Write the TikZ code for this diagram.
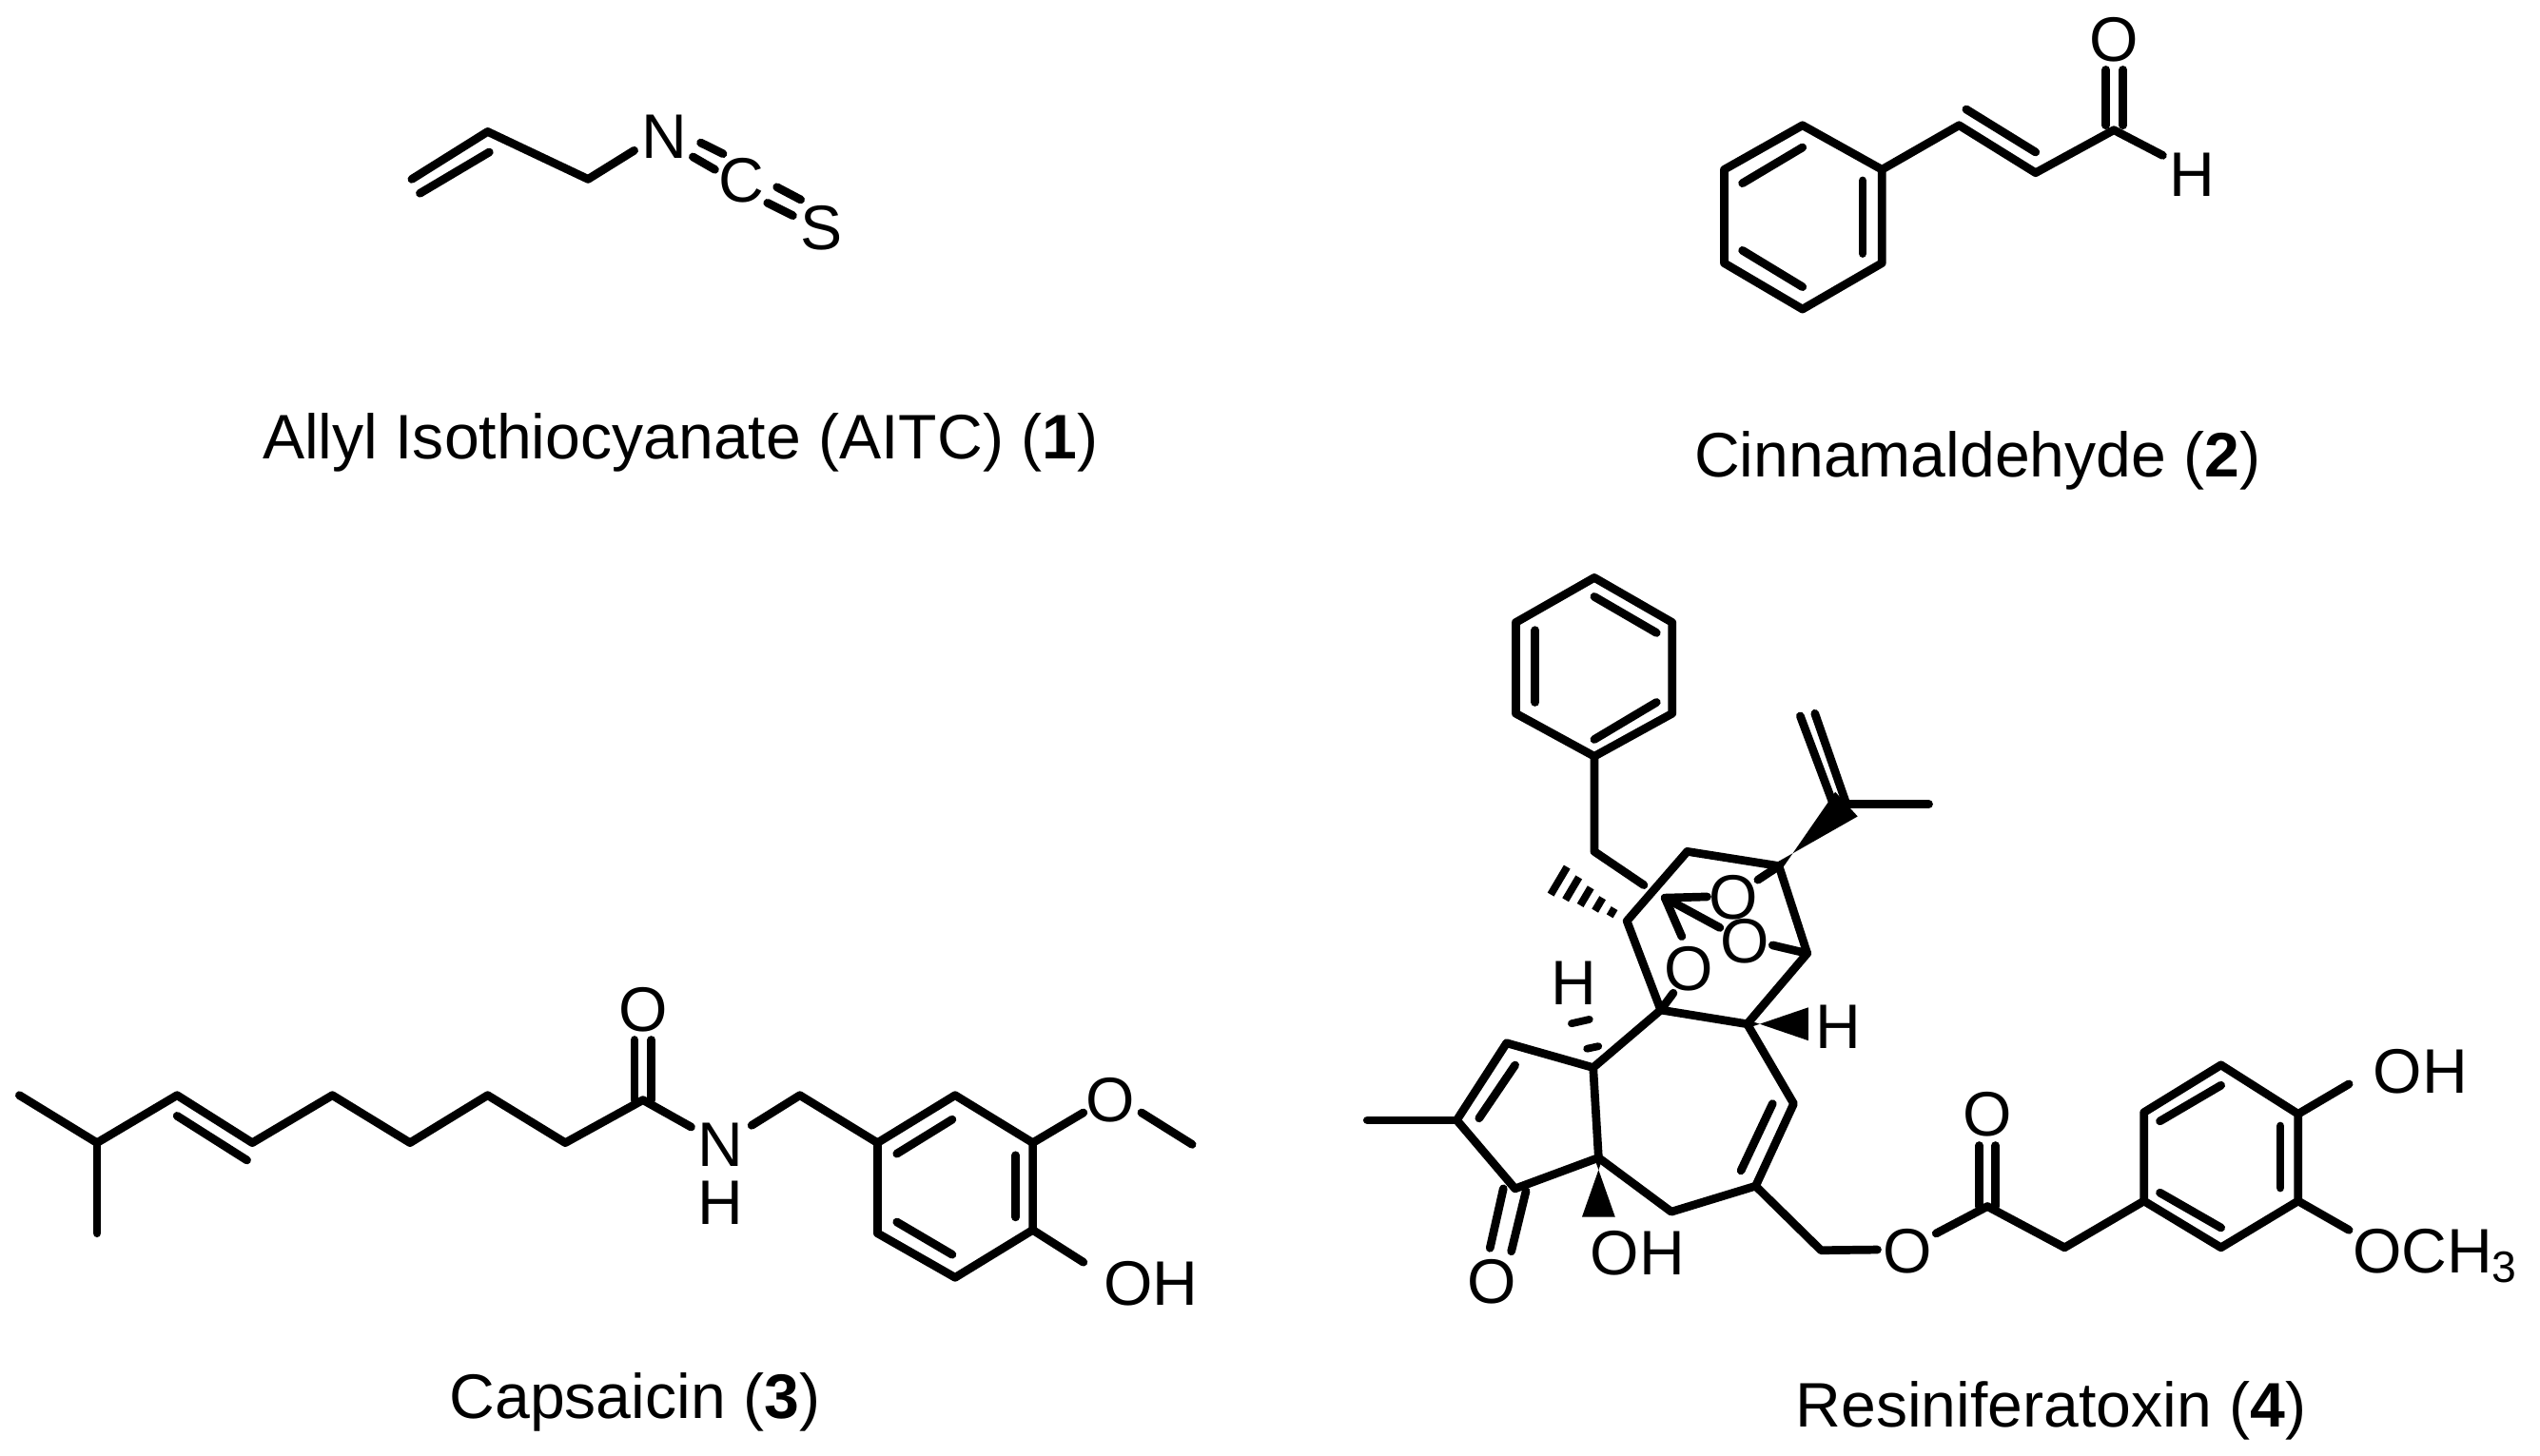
\documentclass[tikz,border=0pt]{standalone}
\usepackage{fontspec}
\setmainfont{Liberation Sans}
\usetikzlibrary{calc}
\tikzset{
  bond/.style={line width=2.9pt,line cap=round,line join=round},
  atom/.style={inner sep=0pt,font=\fontsize{22}{26}\selectfont},
  captext/.style={inner sep=0pt,font=\fontsize{22}{26}\selectfont}
}
\newcommand\wedgefill[2]{\fill ($(#1)!1.5pt!90:(#2)$) -- ($(#2)!5.8pt!90:(#1)$) -- ($(#2)!5.8pt!-90:(#1)$) -- ($(#1)!1.5pt!-90:(#2)$) -- cycle;}
\begin{document}
\begin{tikzpicture}[x=0.02cm,y=-0.02cm]
\useasboundingbox (0,0) rectangle (1560.5,894.8);
% ================= AITC =================
\coordinate (a1) at (253,110.1);
\coordinate (a2) at (299.6,80.9);
\coordinate (a3) at (361.3,110.1);
\coordinate (a4) at (389.6,92.5);
\node[atom] (aN) at (408.2,83.8) {N};
\node[atom] (aC) at (455.8,111.1) {C};
\node[atom] (aS) at (504.6,140.3) {S};
\draw[bond] (a1) -- (a2) -- (a3) -- (a4);
\draw[bond] (258,118.8) -- (300.6,93.5);
\draw[bond] (425.7,96.4) -- (439.2,104.2);
\draw[bond] (430.5,87.7) -- (444.2,94.5);
\draw[bond] (471.5,124.7) -- (487.1,132.5);
\draw[bond] (477.3,115) -- (491.9,122.7);
\node[captext] (capA) at (418,272) {Allyl Isothiocyanate (AITC) (\textbf{1})};
% ================= Cinnamaldehyde =================
\coordinate (b1) at (1107.4,77);
\coordinate (b2) at (1156.2,104.2);
\coordinate (b3) at (1156.2,161.7);
\coordinate (b4) at (1107.4,190);
\coordinate (b5) at (1059.3,161.7);
\coordinate (b6) at (1059.3,104.2);
\draw[bond] (b1) -- (b2) -- (b3) -- (b4) -- (b5) -- (b6) -- cycle;
\draw[bond] (1070.5,112.6) -- (1107.4,90.6);
\draw[bond] (1144.4,111) -- (1144.4,155.8);
\draw[bond] (1070.5,153.9) -- (1107.4,176.3);
\coordinate (b7) at (1203.6,77);
\coordinate (b8) at (1250.6,106.2);
\coordinate (b9) at (1298.7,79.9);
\coordinate (b10) at (1328.7,95.5);
\draw[bond] (b2) -- (b7) -- (b8) -- (b9) -- (b10);
\draw[bond] (1208,67.2) -- (1250.6,93.5);
\draw[bond] (1293.8,77) -- (1293.8,42.9);
\draw[bond] (1304.3,77) -- (1304.3,42.9);
\node[atom] (bO) at (1298.7,24.4) {O};
\node[atom] (bH) at (1346.7,107.1) {H};
\node[captext] (capB) at (1215,283) {Cinnamaldehyde (\textbf{2})};
% ================= Capsaicin =================
\coordinate (k1) at (11.9,673.1);
\coordinate (k2) at (59.6,702.3);
\coordinate (k3) at (59.6,757.9);
\coordinate (k4) at (108.8,673.1);
\coordinate (k5) at (155,702.3);
\coordinate (k6) at (204.2,673.1);
\coordinate (k7) at (251.9,702.3);
\coordinate (k8) at (299.6,673.1);
\coordinate (k9) at (347.3,702.3);
\coordinate (k10) at (395,676);
\coordinate (k11) at (424.6,692.6);
\coordinate (k12) at (461.8,691.6);
\coordinate (k13) at (491.4,673.1);
\draw[bond] (k1) -- (k2) -- (k4) -- (k5) -- (k6) -- (k7) -- (k8) -- (k9) -- (k10) -- (k11);
\draw[bond] (k2) -- (k3);
\draw[bond] (108.8,685.8) -- (151.7,713);
\draw[bond] (389.8,676) -- (389.8,639.1);
\draw[bond] (400.2,676) -- (400.2,639.1);
\node[atom] (kO) at (395,620.6) {O};
\node[atom] (kN) at (442.7,703.3) {N};
\node[atom] (kH) at (442.7,739.3) {H};
\coordinate (r1) at (539.1,702.3);
\coordinate (r2) at (586.8,673.1);
\coordinate (r3) at (634.5,702.3);
\coordinate (r4) at (634.5,755.9);
\coordinate (r5) at (586.8,785.1);
\coordinate (r6) at (539.1,757.9);
\draw[bond] (k12) -- (k13) -- (r1);
\draw[bond] (r1) -- (r2) -- (r3) -- (r4) -- (r5) -- (r6) -- cycle;
\draw[bond] (551,709) -- (585,688);
\draw[bond] (624,710) -- (624,748);
\draw[bond] (551,751) -- (585,771);
\draw[bond] (r3) -- (665.6,683.8);
\node[atom] (kOm) at (682.3,676) {O};
\draw[bond] (701.3,683.8) -- (732.4,703.3);
\draw[bond] (r4) -- (665.6,775.7);
\node[atom] (kOH) at (707,789) {OH};
\node[captext] (capC) at (390,862) {Capsaicin (\textbf{3})};
% ================= Resiniferatoxin =================
\coordinate (p1) at (979.5,355);
\coordinate (p2) at (1027.3,382.5);
\coordinate (p3) at (1027.3,438.5);
\coordinate (p4) at (979.5,464.8);
\coordinate (p5) at (931.3,438.5);
\coordinate (p6) at (931.3,382.5);
\draw[bond] (p1) -- (p2) -- (p3) -- (p4) -- (p5) -- (p6) -- cycle;
\draw[bond] (979.5,366.7) -- (1017.7,388.9);
\draw[bond] (943.2,387.3) -- (943.2,431.6);
\draw[bond] (979.5,454.4) -- (1017.7,431.6);
\coordinate (bz) at (979.5,523.3);
\coordinate (bzend) at (1009.9,543.9);
\draw[bond] (p4) -- (bz) -- (bzend);
\coordinate (ca) at (999.5,566);
\coordinate (cb) at (1036.6,523.3);
\coordinate (cc) at (1092.9,532.2);
\coordinate (cd) at (1110.3,585.9);
\coordinate (ce) at (1073.4,629.3);
\coordinate (cf) at (1020.3,620.7);
\coordinate (co) at (1022.9,551.8);
\node[atom] (O1) at (1065.1,551.8) {O};
\node[atom] (O2) at (1072.1,578.7) {O};
\node[atom] (O3) at (1037.6,595.4) {O};
\draw[bond] (cf) -- (ca) -- (cb) -- (cc) -- (cd) -- (ce) -- (cf);
\draw[bond] (co) -- (1048.8,551.1);
\draw[bond] (co) -- (1056.6,570.1);
\draw[bond] (co) -- (1033.2,575.5);
\draw[bond] (cc) -- (1080,540.7);
\draw[bond] (cd) -- (1089,580.9);
\draw[bond] (cf) -- (1028,610.3);
\coordinate (hm) at (954.1,539.1);
\foreach \t/\w in {0.2/1.6,0.38/2.6,0.56/3.6,0.74/4.6,0.92/5.6}{
  \draw[line width=2.6pt] ($(ca)!\t!(hm)!\w pt!90:(hm)$) -- ($(ca)!\t!(hm)!\w pt!-90:(hm)$);
}
\coordinate (ip) at (1134.4,494.2);
\coordinate (ipm) at (1185,494.2);
\coordinate (ipc) at (1115,438.5);
\wedgefill{cc}{ip}
\draw[bond] (ip) -- (ipm);
\draw[bond] (ip) -- (ipc);
\draw[bond] (1127,496) -- (1106,440);
\coordinate (hw) at (1111,629.3);
\wedgefill{ce}{hw}
\node[atom] (H1) at (1129.2,630.8) {H};
\coordinate (cg) at (978.8,656.1);
\coordinate (ch) at (925.6,641);
\coordinate (ci) at (895,688.4);
\coordinate (cj) at (930.8,730.5);
\coordinate (ck) at (982.1,711.5);
\draw[bond] (cf) -- (cg) -- (ch) -- (ci) -- (cj) -- (ck) -- (cg);
\draw[bond] (930.8,654.6) -- (908.7,687.2);
\draw[bond] (ci) -- (840,688.4);
\draw[bond] (923.6,730.5) -- (915.4,767);
\draw[bond] (937.5,732) -- (928.5,769);
\node[atom] (O4) at (916.5,787.4) {O};
\node[atom] (H2) at (967.1,604) {H};
\draw[line width=2.6pt,line cap=round] (975,644.5) -- (982,643);
\draw[line width=2.6pt,line cap=round] (965.5,629) -- (976.5,626.5);
\coordinate (ohw) at (982.1,747.9);
\wedgefill{ck}{ohw}
\node[atom] (OH1) at (1006,770) {OH};
\coordinate (cl) at (1026.8,744.7);
\coordinate (cm) at (1078.6,728.9);
\coordinate (cn) at (1102,678.3);
\draw[bond] (ck) -- (cl) -- (cm) -- (cn) -- (ce);
\draw[bond] (1069.6,719.4) -- (1089,678.3);
\coordinate (e1) at (1118.8,768.4);
\coordinate (e2) at (1153.4,768);
\draw[bond] (cm) -- (e1) -- (e2);
\node[atom] (O5) at (1172.1,769) {O};
\coordinate (e3) at (1189.5,758);
\coordinate (ec) at (1221,741.4);
\coordinate (e4) at (1268.4,766.7);
\draw[bond] (e3) -- (ec) -- (e4);
\draw[bond] (1216,741.4) -- (1216,704);
\draw[bond] (1226,741.4) -- (1226,704);
\node[atom] (O6) at (1221,684.8) {O};
\coordinate (s1) at (1317.2,738.1);
\coordinate (s2) at (1317.2,683.6);
\coordinate (s3) at (1364.5,654.5);
\coordinate (s4) at (1411.9,684.6);
\coordinate (s5) at (1411.9,738.1);
\coordinate (s6) at (1364.5,766.7);
\draw[bond] (e4) -- (s1);
\draw[bond] (s1) -- (s2) -- (s3) -- (s4) -- (s5) -- (s6) -- cycle;
\draw[bond] (1327,689) -- (1364.5,667);
\draw[bond] (1401,692) -- (1401,730);
\draw[bond] (1327,733) -- (1364.5,754.5);
\draw[bond] (s4) -- (1443.1,666.2);
\draw[bond] (s5) -- (1443.1,755.9);
\node[atom] (OH2) at (1487,658.6) {OH};
\node[atom,anchor=base west] (OMe) at (1445,782) {OCH\textsubscript{3}};
\node[captext] (capD) at (1260,867) {Resiniferatoxin (\textbf{4})};
\end{tikzpicture}
\end{document}
